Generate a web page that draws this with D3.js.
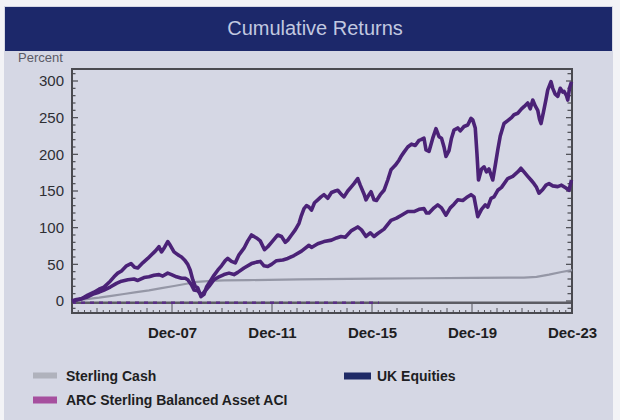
<!DOCTYPE html>
<html><head><meta charset="utf-8">
<script src="https://cdn.jsdelivr.net/npm/d3@7"></script>
<style>html,body{margin:0;padding:0;background:#f3f3f6;}svg{display:block;}</style>
</head><body>
<script>
// ---- data (decimal year, cumulative return %) ----
const upperYears = [2003.92,2004.1,2004.3,2004.55,2004.8,2005.0,2005.2,2005.45,2005.6,2005.75,2005.9,2006.1,2006.28,2006.42,2006.55,2006.75,2006.95,2007.1,2007.25,2007.4,2007.5,2007.62,2007.75,2007.85,2008.0,2008.08,2008.2,2008.3,2008.42,2008.55,2008.65,2008.75,2008.85,2008.95,2009.08,2009.2,2009.3,2009.45,2009.6,2009.75,2009.9,2010.05,2010.15,2010.3,2010.45,2010.6,2010.8,2010.95,2011.1,2011.3,2011.45,2011.62,2011.75,2011.9,2012.05,2012.15,2012.3,2012.45,2012.55,2012.7,2012.85,2013.0,2013.08,2013.2,2013.3,2013.4,2013.5,2013.62,2013.75,2013.88,2014.0,2014.15,2014.3,2014.45,2014.55,2014.7,2014.8,2014.95,2015.1,2015.2,2015.35,2015.45,2015.6,2015.68,2015.8,2015.88,2016.0,2016.1,2016.25,2016.4,2016.55,2016.68,2016.85,2017.0,2017.08,2017.2,2017.35,2017.5,2017.65,2017.8,2017.88,2018.0,2018.08,2018.2,2018.35,2018.48,2018.6,2018.7,2018.8,2018.88,2019.0,2019.1,2019.2,2019.35,2019.45,2019.6,2019.75,2019.88,2019.95,2020.05,2020.12,2020.18,2020.3,2020.4,2020.5,2020.6,2020.75,2020.85,2020.95,2021.05,2021.2,2021.35,2021.5,2021.6,2021.75,2021.9,2022.0,2022.15,2022.25,2022.35,2022.45,2022.55,2022.62,2022.68,2022.78,2022.88,2022.95,2023.08,2023.15,2023.25,2023.35,2023.45,2023.55,2023.6,2023.7,2023.75,2023.82,2023.9];
const upperValues = [0,2,3,8,12,16,19,27,33,38,41,48,51,46,45,52,58,63,68,74,67,73,81,76,67,65,62,60,56,50,42,29,20,18,6,9,19,27,35,42,48,55,58,54,52,63,72,82,90,86,82,70,74,80,86,90,88,80,83,90,97,106,115,126,130,128,124,134,138,142,145,140,148,150,151,145,142,150,156,160,167,158,146,138,145,149,138,137,145,151,165,179,185,192,197,203,210,214,212,219,220,222,206,204,222,235,224,222,210,197,205,222,233,236,232,238,240,249,247,236,200,165,180,183,176,180,165,185,206,225,242,246,250,254,256,262,265,270,262,274,266,260,248,242,258,275,288,299,290,282,279,290,285,286,280,274,290,299];

const lowerYears = [2003.92,2004.2,2004.5,2004.8,2005.0,2005.2,2005.45,2005.7,2005.9,2006.15,2006.4,2006.55,2006.8,2007.0,2007.2,2007.4,2007.55,2007.75,2007.9,2008.1,2008.3,2008.45,2008.55,2008.7,2008.8,2008.95,2009.1,2009.25,2009.4,2009.6,2009.8,2010.0,2010.2,2010.4,2010.55,2010.8,2011.1,2011.3,2011.45,2011.6,2011.75,2011.9,2012.1,2012.35,2012.55,2012.8,2013.1,2013.4,2013.5,2013.75,2014.0,2014.3,2014.5,2014.68,2014.85,2015.1,2015.35,2015.5,2015.68,2015.85,2016.0,2016.15,2016.4,2016.68,2016.9,2017.1,2017.35,2017.6,2017.8,2018.0,2018.1,2018.2,2018.4,2018.55,2018.7,2018.88,2019.05,2019.2,2019.35,2019.55,2019.7,2019.88,2020.0,2020.15,2020.3,2020.45,2020.55,2020.68,2020.8,2020.95,2021.1,2021.35,2021.55,2021.75,2021.88,2022.0,2022.15,2022.28,2022.4,2022.5,2022.6,2022.75,2022.88,2023.0,2023.15,2023.35,2023.5,2023.68,2023.8,2023.9];
const lowerValues = [0,2,5,10,12,15,19,24,27,29,30,28,32,33,35,36,34,38,36,33,31,31,29,22,15,14,8,14,20,29,33,36,38,36,39,45,51,53,54,48,47,50,55,56,58,62,68,76,73,78,81,83,86,88,87,96,101,97,88,93,88,92,98,110,113,117,122,122,125,126,120,120,127,131,127,117,127,132,138,137,141,145,142,115,125,131,128,140,142,151,155,167,170,176,181,176,170,165,160,155,147,152,158,160,157,156,158,154,151,165];

const cashYears = [2003.92,2004.5,2005.0,2005.5,2006.0,2006.5,2007.0,2007.5,2008.0,2008.5,2008.9,2009.5,2010.0,2011.0,2013.0,2016.0,2018.0,2020.0,2022.0,2022.5,2023.0,2023.5,2023.92];
const cashValues = [0,2.5,4.5,7,9.5,12,14.5,17.5,20.5,23.5,26,27.5,28,28.5,29.5,30.5,31,31.5,32,33,36,39.5,42];

const xTickValues = [2007.92,2011.92,2015.92,2019.92,2023.92];
const xTickLabels = ["Dec-07","Dec-11","Dec-15","Dec-19","Dec-23"];
const yTickValues = [0,50,100,150,200,250,300];

const legendNames = ["Sterling Cash","UK Equities","ARC Sterling Balanced Asset ACI"];
const legendColors = ["#b0b2bc","#1f2a66","#a64f9e"];

// ---- drawing ----
const W = 620, H = 420;
const svg = d3.select("body").append("svg").attr("width", W).attr("height", H);
const font = "'Liberation Sans', Arial, sans-serif";

svg.append("rect").attr("x",4).attr("y",6).attr("width",609).attr("height",414).attr("fill","#d5d7e4");
// title bar
svg.append("rect").attr("x",5).attr("y",7).attr("width",607).attr("height",44).attr("fill","#1c286a");
svg.append("text").attr("x",315).attr("y",35).attr("text-anchor","middle")
  .attr("font-family",font).attr("font-size",20).attr("fill","#c2c8e0").text("Cumulative Returns");
svg.append("text").attr("x",18).attr("y",62).attr("font-family",font).attr("font-size",13)
  .attr("fill","#5a5a66").text("Percent");

const L = 72, R = 572, T = 69, B = 313;
const x = d3.scaleLinear().domain([2003.92, 2023.92]).range([L, R]);
const y = d3.scaleLinear().domain([0, 300]).range([301, 81]);

const g = svg.append("g");

// y axis labels + ticks
const yAxis = d3.axisLeft(y).tickValues(yTickValues).tickSize(0).tickPadding(8).tickFormat(d3.format("d"));
const ya = g.append("g").attr("transform",`translate(${L},0)`).call(yAxis);
ya.select(".domain").remove();
ya.selectAll("text").attr("font-family",font).attr("font-size",15).attr("fill","#2e2e34");

const minorY = d3.range(-10, 311, 10);
g.selectAll(".ytl").data(minorY).join("line")
  .attr("x1",L).attr("x2",d => L + (d % 50 === 0 ? 6 : 3.5))
  .attr("y1",d=>y(d)).attr("y2",d=>y(d)).attr("stroke","#4a4a50").attr("stroke-width",1.2);
g.selectAll(".ytr").data(minorY).join("line")
  .attr("x1",R).attr("x2",d => R - (d % 50 === 0 ? 6 : 4.5))
  .attr("y1",d=>y(d)).attr("y2",d=>y(d)).attr("stroke","#4a4a50").attr("stroke-width",1.2);

// x axis ticks + labels
const xAxis = d3.axisBottom(x).tickValues(xTickValues).tickSize(0).tickPadding(14)
  .tickFormat((d,i)=>xTickLabels[i]);
const xa = g.append("g").attr("transform",`translate(0,${B})`).call(xAxis);
xa.select(".domain").remove();
xa.selectAll("text").attr("font-family",font).attr("font-size",15).attr("font-weight","bold").attr("fill","#1e1e22");

const minorX = d3.range(2003.92, 2023.93, 0.25);
g.selectAll(".xt").data(minorX).join("line")
  .attr("x1",d=>x(d)).attr("x2",d=>x(d)).attr("y1",B)
  .attr("y2",(d,i)=> B - (i % 16 === 0 ? 10 : (i % 4 === 0 ? 5 : 3)))
  .attr("stroke","#55555c").attr("stroke-width",1);

// baseline near zero
g.append("line").attr("x1",L).attr("x2",R).attr("y1",y(-2.5)).attr("y2",y(-2.5))
  .attr("stroke","#5c5c64").attr("stroke-width",2.5);
g.append("line").attr("x1",L).attr("x2",x(2016.2)).attr("y1",y(-2.5)).attr("y2",y(-2.5))
  .attr("stroke","#5a2f86").attr("stroke-width",2.5).attr("stroke-dasharray","4,5");

// frame
g.append("rect").attr("x",L).attr("y",T).attr("width",R-L).attr("height",B-T)
  .attr("fill","none").attr("stroke","#4a4a50").attr("stroke-width",2);

const line = d3.line().x(d=>x(d[0])).y(d=>y(d[1]));
const cash = cashYears.map((d,i)=>[d,cashValues[i]]);
const upper = upperYears.map((d,i)=>[d,upperValues[i]]);
const lower = lowerYears.map((d,i)=>[d,lowerValues[i]]);

g.append("path").datum(cash).attr("d",line).attr("fill","none").attr("stroke","#9597a6").attr("stroke-width",2.2);
g.append("path").datum(lower).attr("d",line).attr("fill","none").attr("stroke","#4b2277").attr("stroke-width",3.6).attr("stroke-linejoin","round");
g.append("path").datum(upper).attr("d",line).attr("fill","none").attr("stroke","#4b2277").attr("stroke-width",3.6).attr("stroke-linejoin","round");

// legend
const legendPos = [[33,376],[344,376],[33,400]];
const lg = svg.append("g");
legendNames.forEach((n,i)=>{
  const [lx,ly] = legendPos[i];
  lg.append("rect").attr("x",lx).attr("y",ly-3.5).attr("width",i===1?27:24).attr("height",i===0?6:7)
    .attr("fill",legendColors[i]);
  lg.append("text").attr("x",lx+33).attr("y",ly+5).attr("font-family",font).attr("font-size",14)
    .attr("font-weight","bold").attr("fill","#1e1e22").text(n);
});
</script>
</body></html>
